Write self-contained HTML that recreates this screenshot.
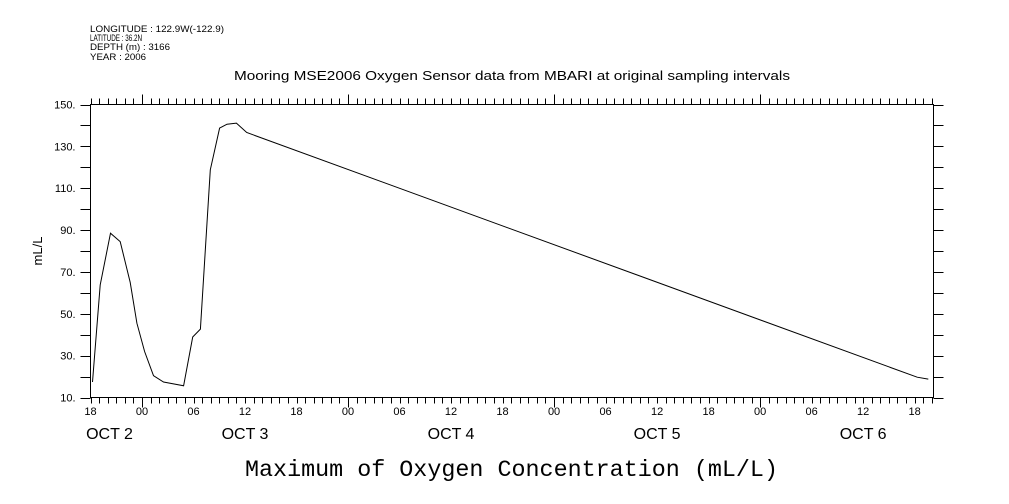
<!DOCTYPE html>
<html><head><meta charset="utf-8"><style>
html,body{margin:0;padding:0;background:#fff;}
svg{display:block;}
text{fill:#000;}
</style></head><body>
<svg id="chart" width="1009" height="504" viewBox="0 0 1009 504" xmlns="http://www.w3.org/2000/svg">
<g font-family="Liberation Sans, sans-serif" font-size="9">
<text x="90" y="32" textLength="134" lengthAdjust="spacingAndGlyphs">LONGITUDE : 122.9W(-122.9)</text>
<text x="90" y="41" textLength="52" lengthAdjust="spacingAndGlyphs">LATITUDE : 36.2N</text>
<text x="90" y="50" textLength="80" lengthAdjust="spacingAndGlyphs">DEPTH (m) : 3166</text>
<text x="90" y="60" textLength="56" lengthAdjust="spacingAndGlyphs">YEAR : 2006</text>
</g>
<text x="234" y="80" textLength="556" lengthAdjust="spacingAndGlyphs" font-family="Liberation Sans, sans-serif" font-size="13">Mooring MSE2006 Oxygen Sensor data from MBARI at original sampling intervals</text>
<text transform="translate(42,251) rotate(-90)" text-anchor="middle" font-family="Liberation Sans, sans-serif" font-size="13">mL/L</text>
<text x="245" y="476" textLength="533" lengthAdjust="spacingAndGlyphs" font-family="Liberation Mono, monospace" font-size="23">Maximum of Oxygen Concentration (mL/L)</text>
<g id="axes"></g>
<g id="marks"></g>
</svg>
<script>
// hours since OCT 2 18:00
var times = [0.23,1.13,2.33,3.46,4.63,5.4,6.3,7.34,8.5,10.84,11.9,12.8,13.95,15.04,15.9,17.0,18.2,96.3,97.6];
var values = [17.4,63.8,88.5,84.5,65,45.5,32,20.4,17.4,15.6,38.9,42.7,118.8,138.7,140.6,141.1,136.6,19.7,18.8];
var yTickValues = [10,30,50,70,90,110,130,150];
var yTickLabels = ["10.","30.","50.","70.","90.","110.","130.","150."];
var hourLabels = ["18","00","06","12","18","00","06","12","18","00","06","12","18","00","06","12","18"];
var dayLabels = ["OCT  2","OCT  3","OCT  4","OCT  5","OCT  6"];

var X0=90.5, X1=933.5, Y0=397.5, Y1=104.5, TMAX=98.2, VMIN=10, VMAX=150;
function xs(t){return X0+(X1-X0)*t/TMAX;}
function ys(v){return Y0-(Y0-Y1)*(v-VMIN)/(VMAX-VMIN);}
var NS="http://www.w3.org/2000/svg";
var axes=document.getElementById('axes'), marks=document.getElementById('marks');
function el(tag,attrs,parent){var e=document.createElementNS(NS,tag);for(var k in attrs)e.setAttribute(k,attrs[k]);parent.appendChild(e);return e;}

var frame=el('rect',{x:X0,y:Y1,width:X1-X0,height:Y0-Y1,fill:'none',stroke:'#000','stroke-width':1},axes);



for(var h=0;h<=98;h++){
  var x=Math.round(xs(h))+0.5;
  var isDay=((h+18)%24===0);
  var len=isDay?10:6;
  var tb=el('line',{x1:x,x2:x,y1:Y0,y2:Y0+len,stroke:'#000'},axes);
  
  
  var tt=el('line',{x1:x,x2:x,y1:Y1,y2:Y1-len,stroke:'#000'},axes);
  
  
}
for(var i=0;i<hourLabels.length;i++){
  var t=el('text',{x:xs(i*6),y:415,'text-anchor':'middle','font-family':'Liberation Sans, sans-serif','font-size':11},axes);
  t.textContent=hourLabels[i];
  
  
}
for(var d=0;d<dayLabels.length;d++){
  var t2=el('text',{x:xs(d===0?0:6+(d-1)*24+12)+(d===0?19:0),y:439,'text-anchor':'middle','font-family':'Liberation Sans, sans-serif','font-size':16},axes);
  t2.textContent=dayLabels[d];
  
  
}
for(var v=10;v<=150;v+=10){
  var y=Math.round(ys(v))+0.5;
  var l1=el('line',{x1:X0-10,x2:X0,y1:y,y2:y,stroke:'#000'},axes);
  
  
  var l2=el('line',{x1:X1,x2:X1+10,y1:y,y2:y,stroke:'#000'},axes);
  
  
}
for(var j=0;j<yTickValues.length;j++){
  var t3=el('text',{x:X0-15,y:ys(yTickValues[j])+4,'text-anchor':'end','font-family':'Liberation Sans, sans-serif','font-size':11},axes);
  t3.textContent=yTickLabels[j];
  
  
}
var pts=times.map(function(t,i){return xs(t).toFixed(1)+','+ys(values[i]).toFixed(1);}).join(' ');
var line=el('polyline',{points:pts,fill:'none',stroke:'#000','stroke-width':1},marks);


</script>
</body></html>
